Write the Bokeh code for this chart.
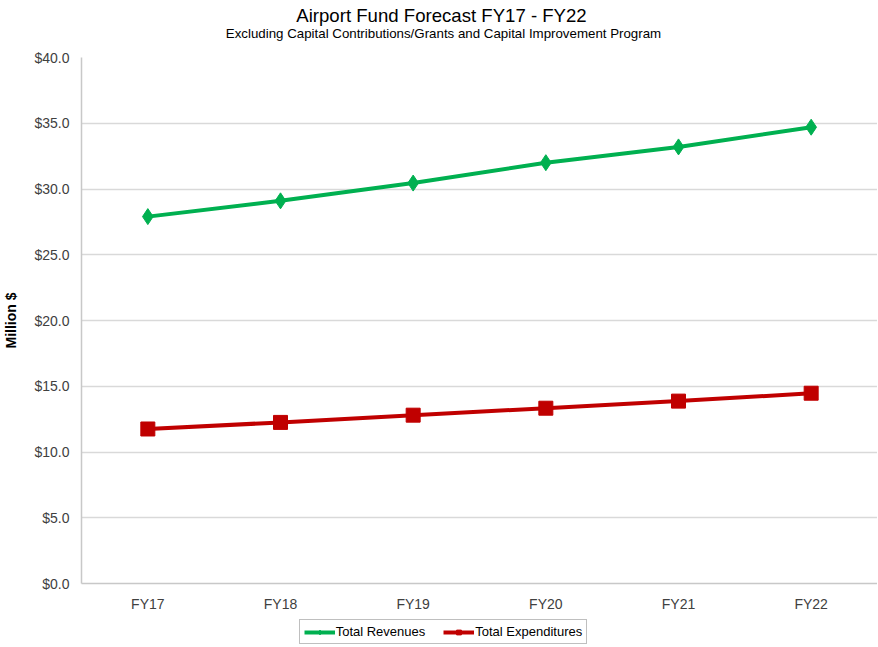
from bokeh.plotting import figure
from bokeh.layouts import column
from bokeh.models import (FactorRange, Range1d, NumeralTickFormatter, Legend, Label,
                          LegendItem, FixedTicker, ColumnDataSource)
from bokeh.embed import file_html
from bokeh.resources import INLINE

years = ["FY17", "FY18", "FY19", "FY20", "FY21", "FY22"]
revenues = [27.9, 29.1, 30.45, 32.0, 33.2, 34.7]
expenditures = [11.75, 12.25, 12.8, 13.33, 13.87, 14.47]
y_ticks = [0, 5, 10, 15, 20, 25, 30, 35, 40]
series_names = ["Total Revenues", "Total Expenditures"]
title_text = "Airport Fund Forecast FY17 - FY22"
subtitle_text = "Excluding Capital Contributions/Grants and Capital Improvement Program"

FONT = "Liberation Sans"
GREEN = "#00B050"
RED = "#C00000"

src = ColumnDataSource(dict(year=years, rev=revenues, exp=expenditures))


def blank(fig):
    fig.outline_line_color = None
    fig.xgrid.grid_line_color = None
    fig.ygrid.grid_line_color = None


# ---- title strip ----
tf = figure(frame_width=796, height=49, x_range=Range1d(82, 878), y_range=Range1d(0, 49),
            min_border=0, min_border_left=74, x_axis_type=None, y_axis_type=None,
            output_backend="svg", toolbar_location=None)
blank(tf)
tf.add_layout(Label(x=442, y=34, text=title_text, text_align="center",
                    text_baseline="middle", text_font=FONT, text_font_size="18.6px",
                    text_color="#000000"))
tf.add_layout(Label(x=444, y=16, text=subtitle_text, text_align="center",
                    text_baseline="middle", text_font=FONT, text_font_size="13.3px",
                    text_color="#000000"))

# ---- main chart ----
p = figure(x_range=FactorRange(*years), y_range=Range1d(0, 40),
           frame_width=796, frame_height=526,
           min_border_left=74, min_border_right=0, min_border_top=8, min_border_bottom=0,
           output_backend="svg", toolbar_location=None)
p.outline_line_color = None

p.line("year", "rev", source=src, line_color=GREEN, line_width=4)
p.scatter("year", "rev", source=src, marker="diamond", size=16, fill_color=GREEN,
          line_color=GREEN)
p.line("year", "exp", source=src, line_color=RED, line_width=4)
p.scatter("year", "exp", source=src, marker="square", size=14, fill_color=RED,
          line_color=RED)

p.yaxis.ticker = FixedTicker(ticks=y_ticks)
p.yaxis.formatter = NumeralTickFormatter(format="$0.0")
p.yaxis.axis_label = "Million $"
p.yaxis.axis_label_text_font = FONT
p.yaxis.axis_label_text_font_size = "14px"
p.yaxis.axis_label_text_font_style = "bold"
p.yaxis.axis_label_text_color = "#000000"
p.yaxis.axis_label_standoff = 12

for ax in (p.xaxis, p.yaxis):
    ax.axis_line_color = "#c8c8c8"
    ax.axis_line_width = 1.5
    ax.major_tick_line_color = None
    ax.minor_tick_line_color = None
    ax.major_label_text_font = FONT
    ax.major_label_text_font_size = "14px"
    ax.major_label_text_color = "#404040"
p.yaxis.major_label_standoff = 12
p.xaxis.major_label_standoff = 12
p.xaxis.major_tick_out = 0
p.yaxis.major_tick_out = 0

p.xgrid.grid_line_color = None
p.ygrid.grid_line_color = "#d9d9d9"
p.ygrid.grid_line_width = 1.5

# ---- legend strip (series drawn off-range so only the legend samples show) ----
lf = figure(frame_width=796, height=34, x_range=p.x_range, y_range=Range1d(100, 101),
            min_border=0, min_border_left=74, x_axis_type=None, y_axis_type=None,
            output_backend="svg", toolbar_location=None)
blank(lf)
l1 = lf.line("year", "rev", source=src, line_color=GREEN, line_width=4)
s1 = lf.scatter("year", "rev", source=src, marker="diamond", size=11, fill_color=GREEN,
                line_color=GREEN)
l2 = lf.line("year", "exp", source=src, line_color=RED, line_width=4)
s2 = lf.scatter("year", "exp", source=src, marker="square", size=10, fill_color=RED,
                line_color=RED)

legend = Legend(items=[LegendItem(label=series_names[0], renderers=[l1, s1]),
                       LegendItem(label=series_names[1], renderers=[l2, s2])],
                orientation="horizontal", location=(274, 4),
                border_line_color="#7f7f7f", border_line_width=1,
                background_fill_color="#ffffff", background_fill_alpha=1,
                label_text_font=FONT, label_text_font_size="13px", label_text_color="#000000",
                glyph_width=31, glyph_height=12, spacing=18, padding=4, margin=0,
                label_standoff=1, label_height=12)
lf.add_layout(legend, "center")

layout = column(tf, p, lf, spacing=0)
open("out.html", "w").write(file_html(layout, INLINE))
